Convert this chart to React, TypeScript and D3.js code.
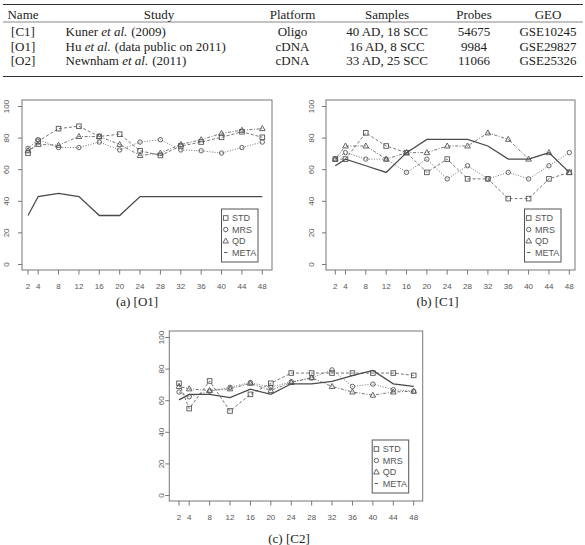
import React from 'react';
import * as d3 from 'd3';

// Feature-set sizes on the x axis
const SIZES = [2, 4, 8, 12, 16, 20, 24, 28, 32, 36, 40, 44, 48];
const Y_TICKS = [0, 20, 40, 60, 80, 100];
const SERIES = ['STD', 'MRS', 'QD', 'META'];

// [O1] accuracies (%)
const STD_O1 = [70.5, 78, 86, 87.5, 81, 82.5, 72, 69, 75, 77.5, 80.5, 84, 80.5];
const MRS_O1 = [73.5, 79, 74, 74, 77.5, 72.5, 77.5, 79, 72.5, 72, 70.5, 74, 77.5];
const QD_O1 = [72, 76, 75.5, 81, 81, 76, 69, 70.5, 76, 79, 83, 85, 86];
const META_O1 = [31, 43, 45, 43, 31, 31, 43, 43, 43, 43, 43, 43, 43];

// [C1] accuracies (%)
const STD_C1 = [66.7, 66.7, 83.3, 75, 70.8, 58.3, 66.7, 54.2, 54.2, 41.7, 41.7, 54.2, 58.3];
const MRS_C1 = [66.7, 70.8, 66.7, 66.7, 58.3, 66.7, 54.2, 62.5, 54.2, 58.3, 54.2, 62.5, 70.8];
const QD_C1 = [66.7, 75, 75, 66.7, 70.8, 70.8, 75, 75, 83.3, 79.2, 66.7, 70.8, 58.3];
const META_C1 = [62.5, 66.7, 62.5, 58.3, 70.8, 79.2, 79.2, 79.2, 75, 66.7, 66.7, 70.8, 58.3];

// [C2] accuracies (%)
const STD_C2 = [71, 55, 72.5, 53.5, 64, 71, 77.5, 77.5, 77.5, 77.5, 77.5, 77.5, 76];
const MRS_C2 = [65.5, 62.5, 66, 68.5, 71.5, 68.5, 72, 74.5, 79.5, 69, 70.5, 67, 66];
const QD_C2 = [69, 67.5, 66.5, 67.5, 71, 66.5, 71.5, 74.5, 69, 65.5, 63.5, 65.5, 66];
const META_C2 = [60.5, 64, 64, 62, 67.3, 64, 70.7, 70.7, 72.2, 75.8, 79.2, 70.7, 69];

// Dataset table
const TABLE_HEADER = ['Name', 'Study', 'Platform', 'Samples', 'Probes', 'GEO'];
const TABLE_NAMES = ['[C1]', '[O1]', '[O2]'];
const TABLE_AUTHORS = ['Kuner', 'Hu', 'Newnham'];
const TABLE_YEARS = ['(2009)', '(data public on 2011)', '(2011)'];
const TABLE_PLATFORMS = ['Oligo', 'cDNA', 'cDNA'];
const TABLE_SAMPLES = ['40 AD, 18 SCC', '16 AD, 8 SCC', '33 AD, 25 SCC'];
const TABLE_PROBES = ['54675', '9984', '11066'];
const TABLE_GEO = ['GSE10245', 'GSE29827', 'GSE25326'];

const SERIF = '"Liberation Serif", "Times New Roman", serif';
const SANS = '"Liberation Sans", Arial, sans-serif';
const INK = '#555';

const DASH: Record<string, string | undefined> = {
  STD: '3,2',
  MRS: '1,1.6',
  QD: '1,1.6,3,1.6',
  META: undefined,
};

type Panel = {
  caption: string;
  left: number;
  top: number;
  width: number;
  height: number;
  x0: number;
  x1: number;
  yLabelX: number;
  captionY: number;
  values: Record<string, number[]>;
};

const panels: Panel[] = [
  {
    caption: '(a) [O1]', left: 22, top: 100, width: 250, height: 170,
    x0: 28, x1: 262.3, yLabelX: 6, captionY: 306,
    values: { STD: STD_O1, MRS: MRS_O1, QD: QD_O1, META: META_O1 },
  },
  {
    caption: '(b) [C1]', left: 326, top: 100, width: 249, height: 170,
    x0: 335.3, x1: 569.3, yLabelX: 311, captionY: 306,
    values: { STD: STD_C1, MRS: MRS_C1, QD: QD_C1, META: META_C1 },
  },
  {
    caption: '(c) [C2]', left: 169.3, top: 331, width: 253.4, height: 170,
    x0: 179, x1: 413.7, yLabelX: 161, captionY: 543,
    values: { STD: STD_C2, MRS: MRS_C2, QD: QD_C2, META: META_C2 },
  },
];

const Marker: React.FC<{ kind: string; x: number; y: number }> = ({ kind, x, y }) => {
  if (kind === 'STD') {
    return <rect x={x - 2.3} y={y - 2.3} width={4.6} height={4.6} fill="none" stroke={INK} strokeWidth={0.9} />;
  }
  if (kind === 'MRS') {
    return <circle cx={x} cy={y} r={2.2} fill="none" stroke={INK} strokeWidth={0.9} />;
  }
  if (kind === 'QD') {
    return <path d={`M${x},${y - 3}L${x + 2.8},${y + 2}L${x - 2.8},${y + 2}Z`} fill="none" stroke={INK} strokeWidth={0.9} />;
  }
  return <line x1={x - 1.6} x2={x + 1.6} y1={y} y2={y} stroke={INK} strokeWidth={1} />;
};

const Chart: React.FC<{ p: Panel }> = ({ p }) => {
  const x = d3.scaleLinear().domain([2, 48]).range([p.x0, p.x1]);
  const y = d3.scaleLinear().domain([0, 100]).range([p.top + p.height - 5.5, p.top + 6.5]);
  const bottom = p.top + p.height;
  const line = d3.line<number>().x((_, i) => x(SIZES[i])).y(v => y(v));

  const lx = p.left + p.width - 50.5;
  const ly = p.top + 109;

  return (
    <g>
      <rect x={p.left} y={p.top} width={p.width} height={p.height} fill="none" stroke="#777" strokeWidth={1} />

      {/* y axis */}
      {Y_TICKS.map(t => (
        <g key={t}>
          <line x1={p.left - 4} x2={p.left} y1={y(t)} y2={y(t)} stroke="#777" />
          <text
            transform={`translate(${p.yLabelX},${y(t)}) rotate(-90)`}
            textAnchor="middle" dy="0.35em" fontSize={8} fontFamily={SANS} fill={INK}
          >{t}</text>
        </g>
      ))}

      {/* x axis */}
      {SIZES.map(s => (
        <g key={s}>
          <line x1={x(s)} x2={x(s)} y1={bottom} y2={bottom + 4.5} stroke="#777" />
          <text x={x(s)} y={bottom + 18.5} textAnchor="middle" fontSize={8} fontFamily={SANS} fill={INK}>{s}</text>
        </g>
      ))}

      {/* series */}
      {SERIES.map(name => (
        <g key={name}>
          <path
            d={line(p.values[name]) ?? ''}
            fill="none"
            stroke={name === 'META' ? '#4a4a4a' : '#666'}
            strokeWidth={name === 'META' ? 1.3 : 0.9}
            strokeDasharray={DASH[name]}
          />
          {name !== 'META' && p.values[name].map((v, i) => (
            <Marker key={i} kind={name} x={x(SIZES[i])} y={y(v)} />
          ))}
        </g>
      ))}

      {/* legend */}
      <rect x={lx} y={ly} width={36.5} height={53} fill="white" stroke="#555" strokeWidth={1} />
      {SERIES.map((name, i) => (
        <g key={name}>
          <Marker kind={name} x={lx + 4.2} y={ly + 9 + i * 11.5} />
          <text x={lx + 10.5} y={ly + 9 + i * 11.5} dy="0.35em" fontSize={9} fontFamily={SANS} fill={INK}>{name}</text>
        </g>
      ))}

      <text x={(p.left + p.width / 2) + (p.caption.startsWith('(c)') ? -7 : 0) + (p.caption.startsWith('(a)') ? -10 : 0) + (p.caption.startsWith('(b)') ? -13 : 0)}
        y={p.captionY} textAnchor="middle" fontSize={13} fontFamily={SERIF} fill="#222">{p.caption}</text>
    </g>
  );
};

const Table: React.FC = () => {
  const centers = [23, 159, 292.5, 387, 474, 548];
  const rowY = [36.3, 51, 65.3];
  const txt = { fontSize: 13, fontFamily: SERIF, fill: '#222' };
  return (
    <g>
      <line x1={3} x2={583} y1={4.5} y2={4.5} stroke="#333" strokeWidth={1.2} />
      <line x1={3} x2={583} y1={22} y2={22} stroke="#555" strokeWidth={0.7} />
      <line x1={3} x2={583} y1={76.5} y2={76.5} stroke="#333" strokeWidth={1.2} />
      {TABLE_HEADER.map((h, i) => (
        <text key={h} x={centers[i]} y={18.5} textAnchor="middle" {...txt}>{h}</text>
      ))}
      {TABLE_NAMES.map((n, r) => (
        <g key={n}>
          <text x={centers[0]} y={rowY[r]} textAnchor="middle" {...txt}>{n}</text>
          <text x={65.5} y={rowY[r]} {...txt} xmlSpace="preserve">
            {TABLE_AUTHORS[r] + ' '}
            <tspan fontStyle="italic">et al.</tspan>
            <tspan dx={4}>{TABLE_YEARS[r]}</tspan>
          </text>
          <text x={centers[2]} y={rowY[r]} textAnchor="middle" {...txt}>{TABLE_PLATFORMS[r]}</text>
          <text x={centers[3]} y={rowY[r]} textAnchor="middle" {...txt}>{TABLE_SAMPLES[r]}</text>
          <text x={centers[4]} y={rowY[r]} textAnchor="middle" {...txt}>{TABLE_PROBES[r]}</text>
          <text x={centers[5]} y={rowY[r]} textAnchor="middle" {...txt}>{TABLE_GEO[r]}</text>
        </g>
      ))}
    </g>
  );
};

export default function App() {
  return (
    <svg width={585} height={545} style={{ position: 'absolute', left: 0, top: 0, background: 'white' }}>
      <Table />
      {panels.map(p => <Chart key={p.caption} p={p} />)}
    </svg>
  );
}
